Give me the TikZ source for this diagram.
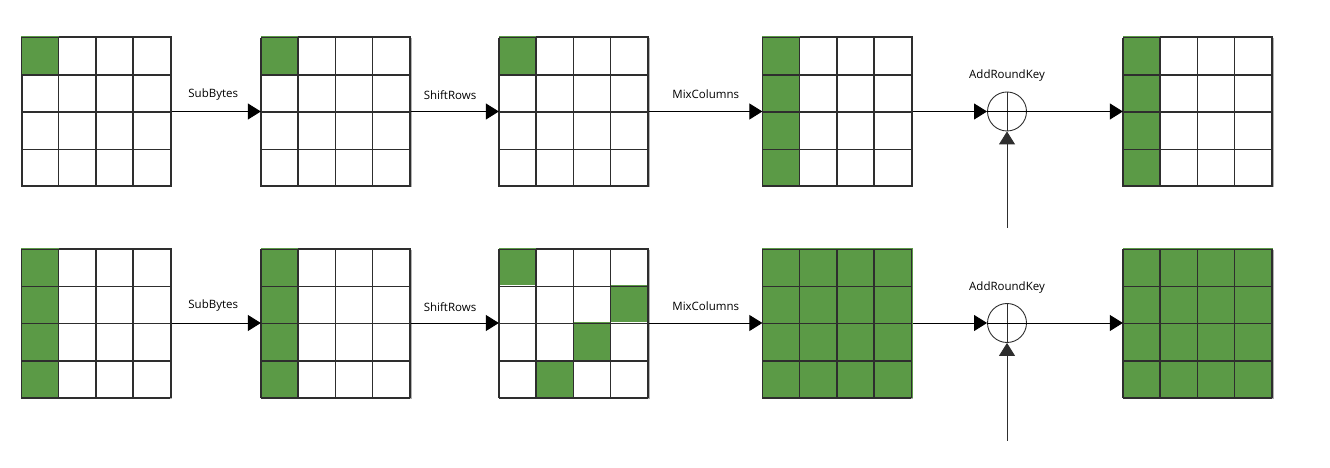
\documentclass[tikz,border=0pt]{standalone}
\usepackage{fontspec}
\setmainfont{Open Sans}
\usetikzlibrary{positioning,arrows.meta,shadows}
\definecolor{aesgreen}{HTML}{5B9A46}
\definecolor{gridgray}{HTML}{2E2E2E}

\tikzset{
    statebox/.style={draw=gridgray, line width=1.3pt, fill=white, minimum size=149pt, inner sep=0pt,
        drop shadow={shadow xshift=1pt, shadow yshift=-1.5pt, opacity=0.3, fill=black}},
    gridline/.style={draw=gridgray, line width=1.3pt},
    arr/.style={-{Triangle[length=13pt,width=16pt]}, line width=0.9pt},
    lbl/.style={font=\fontsize{11.5}{13}\selectfont, inner sep=0pt},
    xorop/.style={circle, draw=gridgray, line width=0.9pt, minimum size=39pt, inner sep=0pt}
}

\begin{document}
\begin{tikzpicture}[x=1pt, y=1pt]
    \useasboundingbox (0,0) rectangle (1330,468);

    % Round 1 (top)
    \node[statebox] (in1) at (96.5,356.5) {};
    \node[statebox] (sb1) at (336,356.5) {};
    \node[statebox] (sr1) at (574,356.5) {};
    \node[statebox] (mc1) at (837.5,356.5) {};
    \node[xorop] (ark1) at (1007,356.5) {};
    \node[statebox] (out1) at (1198,356.5) {};
    \coordinate (key1) at (1007,240);

    % Round 2 (bottom)
    \node[statebox] (in2) at (96.5,145) {};
    \node[statebox] (sb2) at (336,145) {};
    \node[statebox] (sr2) at (574,145) {};
    \node[statebox] (mc2) at (837.5,145) {};
    \node[xorop] (ark2) at (1007,145) {};
    \node[statebox] (out2) at (1198,145) {};
    \coordinate (key2) at (1007,27);

    % Changed bytes
    \foreach \n in {in1,sb1,sr1}
        \fill[aesgreen] (\n.north west) rectangle ++(37.25,-37.25);
    \foreach \n in {mc1,out1,in2,sb2}
        \fill[aesgreen] (\n.north west) rectangle ++(37.25,-149);
    \foreach \c/\r in {0/0,3/1,2/2,1/3}
        \fill[aesgreen, shift={(sr2.north west)}] (\c*37.25,-\r*37.25) rectangle ++(37.25,-37.25);
    \foreach \n in {mc2,out2}
        \fill[aesgreen] (\n.north west) rectangle (\n.south east);

    % 4x4 byte grids
    \foreach \n in {in1,sb1,sr1,mc1,out1,in2,sb2,sr2,mc2,out2}
        \draw[gridline, shift={(\n.south west)}] (0,0) grid[step=37.25] (149,149);

    % XOR symbols
    \foreach \n in {ark1,ark2} {
        \draw[draw=gridgray, line width=0.9pt] (\n.north) -- (\n.south);
        \draw[line width=0.9pt] (\n.west) -- (\n.east);
    }

    % Steps
    \foreach \r in {1,2} {
        \draw[arr] (in\r) -- node[lbl, above=11pt, xshift=-3pt]{SubBytes} (sb\r);
        \draw[arr] (sb\r) -- node[lbl, above=11pt, xshift=-5pt]{ShiftRows} (sr\r);
        \draw[arr] (sr\r) -- node[lbl, above=12pt]{MixColumns} (mc\r);
        \draw[arr] (mc\r) -- (ark\r);
        \draw[arr] (ark\r) -- (out\r);
        \draw[arr, draw=gridgray] (key\r) -- (ark\r);
        \node[lbl, above=10pt of ark\r] {AddRoundKey};
    }
\end{tikzpicture}
\end{document}
